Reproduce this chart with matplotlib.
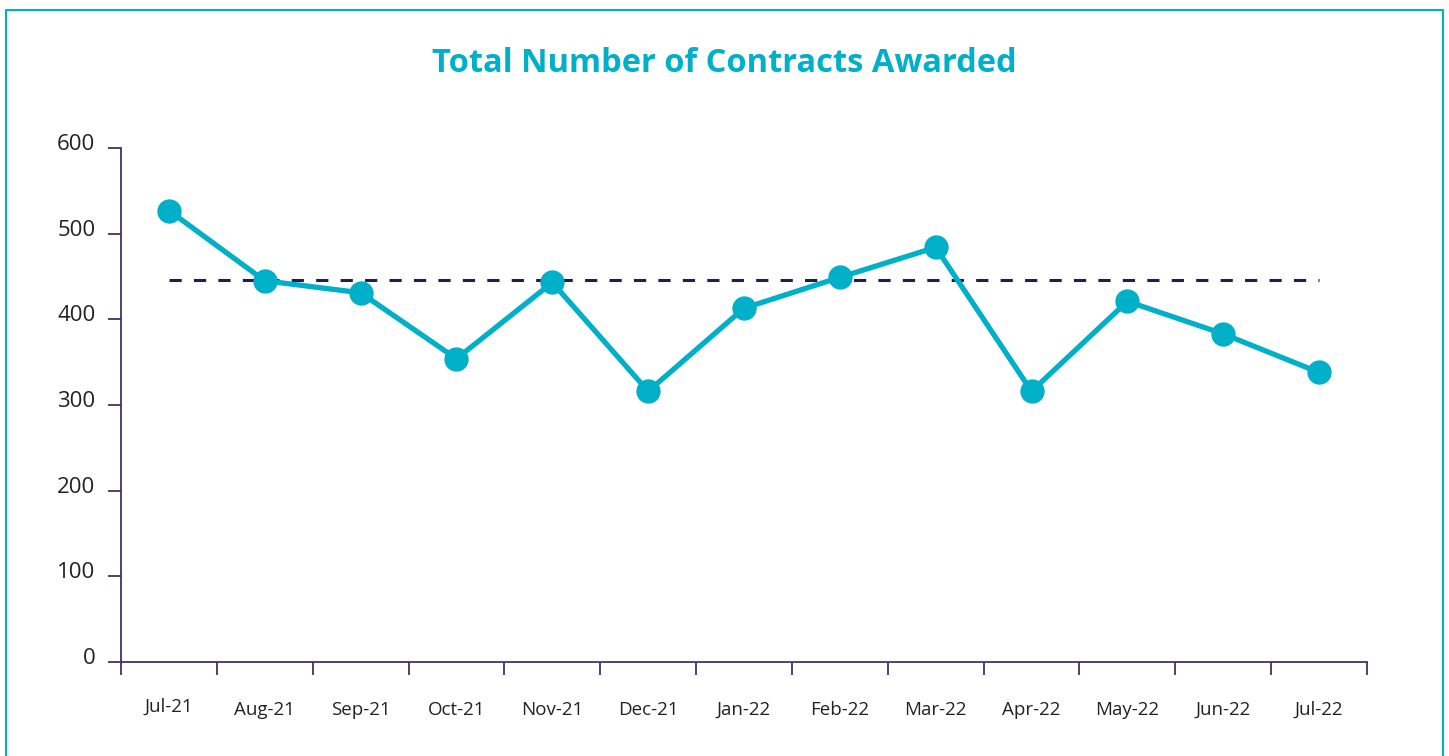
import matplotlib
matplotlib.use("Agg")
import matplotlib.pyplot as plt
import matplotlib.transforms as mtransforms
from matplotlib.lines import Line2D

# data
months = ["Jul-21", "Aug-21", "Sep-21", "Oct-21", "Nov-21", "Dec-21", "Jan-22",
          "Feb-22", "Mar-22", "Apr-22", "May-22", "Jun-22", "Jul-22"]
contracts = [527, 445, 431, 354, 443, 316, 413, 449, 484, 316, 421, 383, 338]
benchmark = [446] * len(months)
yticks = [0, 100, 200, 300, 400, 500, 600]

teal = "#00AFC8"
navy = "#231C4E"
axis_col = "#3A3566"

plt.rcParams['font.family'] = ['Open Sans', 'DejaVu Sans']

fig = plt.figure(figsize=(14.49, 7.56), dpi=100)
ax = fig.add_axes([121 / 1449, 1 - 662 / 756, (1367 - 121) / 1449, (662 - 148) / 756])

x = list(range(len(months)))
ax.plot(x, benchmark, color=navy, lw=2.2, linestyle=(0, (4, 4)), zorder=2)
ax.plot(x, contracts, color=teal, lw=3.8, marker='o', markersize=16.5, zorder=3)

ax.set_xlim(-0.5, len(months) - 0.5)
ax.set_ylim(0, 600)

for s in ["top", "right"]:
    ax.spines[s].set_visible(False)
for s in ["left", "bottom"]:
    ax.spines[s].set_color(axis_col)
    ax.spines[s].set_linewidth(1.3)

# x: labels at centres, ticks at boundaries
ax.set_xticks(x)
ax.set_xticklabels(months, fontsize=13.5, color="#222222")
ax.tick_params(axis='x', which='major', length=0, pad=28)
ax.set_xticks([i - 0.5 for i in range(len(months) + 1)], minor=True)
ax.tick_params(axis='x', which='minor', length=9.5, width=1.3, color=axis_col, direction='out')
# first label sits a touch higher in the original
xl0 = ax.get_xticklabels()[0]
xl0.set_transform(xl0.get_transform() + mtransforms.ScaledTranslation(0, 3 / 100, fig.dpi_scale_trans))

ax.set_yticks(yticks)
ax.set_yticklabels([str(v) for v in yticks], fontsize=16, color="#222222")
ax.tick_params(axis='y', length=9.5, width=1.3, color=axis_col, pad=9)
off = mtransforms.ScaledTranslation(0, 6 / 100, fig.dpi_scale_trans)
for lab in ax.get_yticklabels():
    lab.set_transform(lab.get_transform() + off)

fig.text(0.5, 1 - 63 / 756, "Total Number of Contracts Awarded", ha='center', va='center',
         fontsize=23.5, fontweight='bold', color=teal)

# teal frame (open at the bottom, as in the crop)
fx0, fx1, fy1 = 5.5 / 1449, 1442.5 / 1449, 1 - 9.5 / 756
fig.add_artist(Line2D([fx0, fx0, fx1, fx1], [0, fy1, fy1, 0], transform=fig.transFigure,
                      color=teal, lw=1.5))

fig.savefig("out.png", dpi=100, facecolor="white")
